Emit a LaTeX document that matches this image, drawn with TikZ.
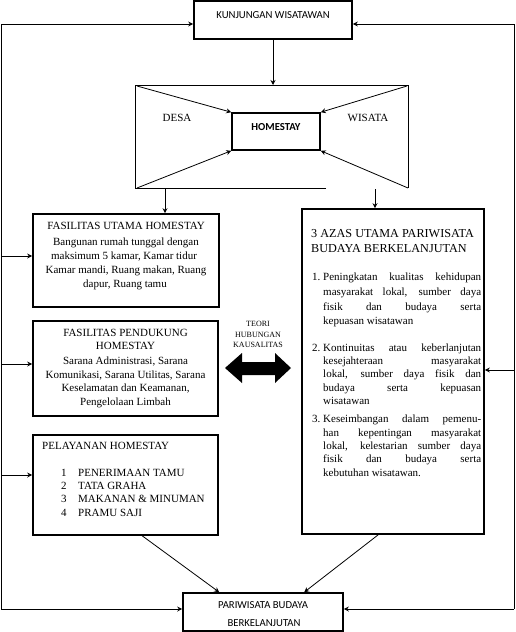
\documentclass[tikz,border=0pt]{standalone}
\usepackage{fontspec}
\setmainfont{Liberation Serif}
\newfontfamily\calfont{Carlito}
\usetikzlibrary{arrows.meta,calc}
\begin{document}
\begin{tikzpicture}[x=1pt,y=-1pt,
  box/.style={draw, line width=1.6pt, inner sep=0pt},
  conn/.style={line width=0.8pt, -{Stealth[length=5pt,width=5pt]}},
  frame/.style={line width=0.8pt},
  t/.style={font=\fontsize{11}{13}\selectfont, inner sep=0pt, anchor=base},
  tl/.style={t, anchor=base west},
  big/.style={font=\fontsize{12.2}{14}\selectfont, inner sep=0pt, anchor=base west},
  ss/.style={font=\calfont\fontsize{10.7}{13}\selectfont, inner sep=0pt, anchor=base},
  small/.style={font=\fontsize{8}{10}\selectfont, inner sep=0pt, anchor=base},
]
\useasboundingbox (0,0) rectangle (515,632);

% boxes
\node[box, minimum width=158pt, minimum height=38pt] (kw) at (273,20) {};
\node[box, minimum width=88pt, minimum height=37pt] (hs) at (276,131.5) {};
\node[box, minimum width=186pt, minimum height=93pt] (fu) at (126,260.5) {};
\node[box, minimum width=185pt, minimum height=95pt] (fp) at (125.5,368.5) {};
\node[box, minimum width=185pt, minimum height=100pt] (pl) at (125.5,485) {};
\node[box, minimum width=182pt, minimum height=325pt] (az) at (393,371.5) {};
\node[box, minimum width=160pt, minimum height=38pt] (pb) at (263,612) {};

% bow-tie frame
\coordinate (tl) at (135,85);
\coordinate (tr) at (408,85);
\coordinate (bl) at (135,188);
\coordinate (br) at (408,188);
\coordinate (bm) at (326,188);
\coordinate (ft) at (273,85);
\draw[frame] (bm) -- (bl) -- (tl) -- (tr) -- (br);
\draw[conn] (kw.south) -- (ft);
\draw[conn] ($(tl)+(2,1)$) -- (hs.north west);
\draw[conn] ($(tr)+(-1,1)$) -- (hs.north east);
\draw[conn] ($(bl)+(2,0)$) -- (hs.south west);
\draw[conn] (br) -- (hs.south east);

% down arrows from frame
\coordinate (d1) at (165,188);
\coordinate (d2) at (375,189);
\draw[conn] (d1) -- (d1 |- fu.north);
\draw[conn] (d2) -- (d2 |- az.north);

% left loop
\coordinate (L1) at (1,24);
\coordinate (L2) at (1,609);
\coordinate (la) at (1,256);
\coordinate (lb) at (1,364);
\coordinate (lc) at (1,475);
\draw[frame] (L1) -- (L2);
\draw[conn] (L1) -- (L1 -| kw.west);
\draw[conn] (la) -- (la -| fu.west);
\draw[conn] (lb) -- (lb -| fp.west);
\draw[conn] (lc) -- (lc -| pl.west);
\draw[conn] (L2) -- (L2 -| pb.west);

% right loop
\coordinate (R1) at (514,24);
\coordinate (R2) at (514,609);
\coordinate (ra) at (514,370);
\draw[frame] (R1) -- (R2);
\draw[conn] (R1) -- (R1 -| kw.east);
\draw[conn] (ra) -- (ra -| az.east);
\draw[conn] (R2) -- (R2 -| pb.east);

% bottom arrows
\draw[conn] ($(pl.south west)+(110,0)$) -- ($(pb.north west)+(37,0)$);
\draw[conn] ($(az.south west)+(77,0)$) -- ($(pb.north west)+(122,0)$);

% double arrow
\fill (225,368) -- (242,353) -- (242,362) -- (275,362) -- (275,353) -- (291,368)
  -- (275,383) -- (275,375) -- (242,375) -- (242,383) -- cycle;
\node[small] (th1) at (258,326) {TEORI};
\node[small] (th2) at (258,337) {HUBUNGAN};
\node[small] (th3) at (258,347.5) {KAUSALITAS};

% texts
\node[ss] (kwt) at (273,18) {KUNJUNGAN WISATAWAN};
\node[ss, font=\calfont\bfseries\fontsize{10.7}{13}\selectfont] (hst) at (276,130) {HOMESTAY};
\node[t] (desa) at (177,121) {DESA};
\node[t] (wis) at (368,121) {WISATA};

\node[t] (fu1) at (126,229) {FASILITAS UTAMA HOMESTAY};
\node[t] (fu2) at (126,245.5) {Bangunan rumah tunggal dengan};
\node[t] (fu3) at (124,259) {maksimum 5 kamar, Kamar tidur};
\node[t] (fu4) at (126,273.5) {Kamar mandi, Ruang makan, Ruang};
\node[t] (fu5) at (125,287) {dapur, Ruang tamu};

\node[t] (fp1) at (125.5,336) {FASILITAS PENDUKUNG};
\node[t] (fp2) at (125.5,349.5) {HOMESTAY};
\node[t] (fp3) at (125.5,364) {Sarana Administrasi, Sarana};
\node[t] (fp4) at (125.5,378) {Komunikasi, Sarana Utilitas, Sarana};
\node[t] (fp5) at (125.5,391.5) {Keselamatan dan Keamanan,};
\node[t] (fp6) at (125.5,405.5) {Pengelolaan Limbah};

\node[tl] (pl0) at (42,449) {PELAYANAN HOMESTAY};
\node[tl] (pn1) at (61,476) {1};
\node[tl] (pn2) at (61,489) {2};
\node[tl] (pn3) at (61,502.5) {3};
\node[tl] (pn4) at (61,516) {4};
\node[tl] (pi1) at (78,476) {PENERIMAAN TAMU};
\node[tl] (pi2) at (78,489) {TATA GRAHA};
\node[tl] (pi3) at (78,502.5) {MAKANAN \& MINUMAN};
\node[tl] (pi4) at (78,516) {PRAMU SAJI};

\node[big] (az0) at (311,237) {3 AZAS UTAMA PARIWISATA};
\node[big] (az00) at (311,252.5) {BUDAYA BERKELANJUTAN};

\node[tl] (an1) at (312,280) {1.};
\node[tl] (a11) at (323,280) {\makebox[158pt][s]{Peningkatan kualitas kehidupan}};
\node[tl] (a12) at (323,295) {\makebox[158pt][s]{masyarakat lokal, sumber daya}};
\node[tl] (a13) at (323,310) {\makebox[158pt][s]{fisik dan budaya serta}};
\node[tl] (a14) at (323,324.5) {kepuasan wisatawan};

\node[tl] (an2) at (312,351) {2.};
\node[tl] (a21) at (323,351) {\makebox[158pt][s]{Kontinuitas atau keberlanjutan}};
\node[tl] (a22) at (323,364) {\makebox[158pt][s]{kesejahteraan masyarakat}};
\node[tl] (a23) at (323,377) {\makebox[158pt][s]{lokal, sumber daya fisik dan}};
\node[tl] (a24) at (323,391) {\makebox[158pt][s]{budaya serta kepuasan}};
\node[tl] (a25) at (323,404) {wisatawan};

\node[tl] (an3) at (312,422) {3.};
\node[tl] (a31) at (323,422) {\makebox[158pt][s]{Keseimbangan dalam pemenu-}};
\node[tl] (a32) at (323,436) {\makebox[158pt][s]{han kepentingan masyarakat}};
\node[tl] (a33) at (323,449) {\makebox[158pt][s]{lokal, kelestarian sumber daya}};
\node[tl] (a34) at (323,462) {\makebox[158pt][s]{fisik dan budaya serta}};
\node[tl] (a35) at (323,476) {kebutuhan wisatawan.};

\node[ss] (pb1) at (263,608) {PARIWISATA BUDAYA};
\node[ss] (pb2) at (264,626) {BERKELANJUTAN};
\end{tikzpicture}
\end{document}
